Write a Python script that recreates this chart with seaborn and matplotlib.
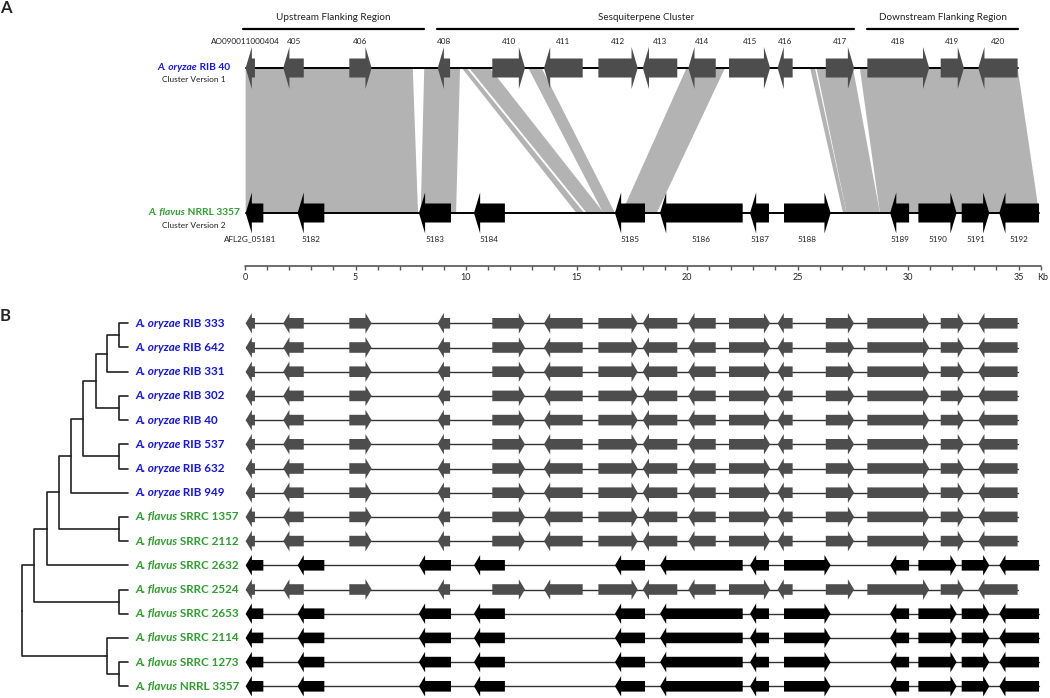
import numpy as np
import pandas as pd
import matplotlib
matplotlib.use("Agg")
import matplotlib.pyplot as plt
from matplotlib.patches import Polygon
import seaborn as sns

# ----------------------
# Data
# ----------------------
# cluster version 1 (A. oryzae RIB 40), positions in kb, strand +1 / -1
v1_names = ["AO090011000404", "405", "406", "408", "410", "411", "412", "413",
            "414", "415", "416", "417", "418", "419", "420"]
v1_start = [0.03, 1.73, 4.72, 8.72, 11.19, 13.53, 15.99, 18.00, 20.06, 21.90, 24.10, 26.28, 28.16, 31.48, 33.18]
v1_end = [0.45, 2.66, 5.73, 9.28, 12.67, 15.28, 17.77, 19.56, 21.30, 23.76, 24.78, 27.56, 30.96, 32.53, 34.96]
v1_strand = [-1, -1, 1, -1, 1, -1, 1, -1, -1, 1, -1, 1, 1, 1, -1]

# cluster version 2 (A. flavus NRRL 3357)
v2_names = ["AFL2G_05181", "5182", "5183", "5184", "5185", "5186", "5187", "5188",
            "5189", "5190", "5191", "5192"]
v2_start = [0.03, 2.38, 7.87, 10.36, 16.74, 18.78, 22.85, 24.39, 29.19, 30.47, 32.43, 34.13]
v2_end = [0.83, 3.59, 9.32, 11.76, 18.10, 22.52, 23.71, 26.50, 30.05, 32.20, 33.68, 35.93]
v2_strand = [-1, -1, -1, -1, -1, -1, -1, 1, -1, 1, 1, -1]

# synteny blocks between the two versions (kb)
syn_top_start = [0.03, 8.11, 9.81, 10.14, 12.82, 19.98, 25.57, 25.86, 27.82]
syn_top_end = [7.59, 9.73, 10.03, 11.08, 13.42, 21.72, 25.79, 27.51, 34.96]
syn_bot_start = [0.03, 7.95, 15.00, 15.46, 16.21, 17.04, 27.06, 27.22, 28.73]
syn_bot_end = [7.83, 9.55, 15.35, 16.24, 16.74, 18.63, 27.22, 28.73, 35.93]

region_names = ["Upstream Flanking Region", "Sesquiterpene Cluster", "Downstream Flanking Region"]
region_start = [-0.08, 8.70, 28.16]
region_end = [8.10, 27.56, 34.96]

scale_ticks = list(range(0, 37))
scale_labels = [0, 5, 10, 15, 20, 25, 30, 35]

# panel B strains
strain_species = ["A. oryzae"] * 8 + ["A. flavus"] * 8
strain_ids = ["RIB 333", "RIB 642", "RIB 331", "RIB 302", "RIB 40", "RIB 537", "RIB 632", "RIB 949",
              "SRRC 1357", "SRRC 2112", "SRRC 2632", "SRRC 2524", "SRRC 2653", "SRRC 2114",
              "SRRC 1273", "NRRL 3357"]
strain_version = [1, 1, 1, 1, 1, 1, 1, 1, 1, 1, 2, 1, 2, 2, 2, 2]

# tree merges (leaves 0-15, new nodes numbered from 16), heights from the leaves
merge_a = [0, 16, 3, 17, 5, 19, 21, 8, 22, 24, 11, 25, 14, 13, 27]
merge_b = [1, 2, 4, 18, 6, 20, 7, 9, 23, 10, 12, 26, 15, 28, 29]
merge_h = [9, 21, 9, 32, 9, 45, 57, 9, 69, 81, 9, 94, 9, 21, 106]

# ----------------------
# Layout / style
# ----------------------
W, H = 1050, 698
KB_PX = 22.1
X0_PX = 245
Y_TOP, Y_BOT, Y_SCALE = 68, 213, 266
ROW0, ROW_STEP = 323.3, 24.2
HEAD_KB = 0.28
BLUE, GREEN = "#1414f0", "#2e9e2e"
GREY_GENE, SYN_GREY = "#4d4d4d", "#b3b3b3"
TXT = "#222222"

sns.set_theme(style="white")
plt.rcParams["font.family"] = ["Lato", "DejaVu Sans"]

fig = plt.figure(figsize=(W / 100, H / 100), dpi=100)
ax = fig.add_axes([0, 0, 1, 1])
ax.set_xlim(-X0_PX / KB_PX, (W - X0_PX) / KB_PX)
ax.set_ylim(H, 0)
ax.axis("off")


def arrow_pts(s, e, strand, y, bh, hh):
    hl = min(HEAD_KB, e - s)
    if strand > 0:
        b = e - hl
        return [(s, y - bh), (b, y - bh), (b, y - hh), (e, y), (b, y + hh), (b, y + bh), (s, y + bh)]
    b = s + hl
    return [(e, y - bh), (b, y - bh), (b, y - hh), (s, y), (b, y + hh), (b, y + bh), (e, y + bh)]


def draw_track(starts, ends, strands, y, color, bh, hh, lw):
    ax.plot([starts[0], ends[-1]], [y, y], color="black" if lw > 1 else "#333333", lw=lw, zorder=2)
    for s, e, st in zip(starts, ends, strands):
        ax.add_patch(Polygon(arrow_pts(s, e, st, y, bh, hh), closed=True, fc=color, ec="none", zorder=3))


def fpos(x, y):
    return x / W, 1 - y / H


def strain_label(x, y, species, rest, color, size, center=False, sub=None):
    t1 = fig.text(*fpos(x, y), species, style="italic", weight="bold", color=color,
                  size=size, va="center", ha="left")
    t2 = ax.annotate(" " + rest, xy=(1, 0.5), xycoords=t1, va="center", ha="left",
                     weight="bold", color=color, size=size)
    if center:
        r = fig.canvas.get_renderer()
        w = t1.get_window_extent(r).width + t2.get_window_extent(r).width
        t1.set_position(fpos(x - w / 2, y))
    if sub:
        fig.text(*fpos(x, y + 12), sub, size=6.0, color=TXT, ha="center", va="center")


# ----------------------
# Panel A
# ----------------------
for ts, te, bs, be in zip(syn_top_start, syn_top_end, syn_bot_start, syn_bot_end):
    ax.add_patch(Polygon([(ts, Y_TOP), (te, Y_TOP), (be, Y_BOT), (bs, Y_BOT)],
                         closed=True, fc=SYN_GREY, ec="none", zorder=1))

draw_track(v1_start, v1_end, v1_strand, Y_TOP, GREY_GENE, 9.5, 21, 1.4)
draw_track(v2_start, v2_end, v2_strand, Y_BOT, "black", 9.5, 20.5, 1.4)

# gene names sit over the gene middle; the first (long) name sits over the gene tip
v1_lab_x = [(s + e) / 2 for s, e in zip(v1_start, v1_end)]
v1_lab_x[0] = v1_start[0]
v2_lab_x = [(s + e) / 2 for s, e in zip(v2_start, v2_end)]
v2_lab_x[0] = (v2_start[0] + v2_lab_x[0]) / 2
for n, x in zip(v1_names, v1_lab_x):
    ax.text(x, 42, n, size=5.9, ha="center", va="center", color=TXT)
for n, x in zip(v2_names, v2_lab_x):
    ax.text(x, 239, n, size=5.9, ha="center", va="center", color=TXT)

for n, s, e in zip(region_names, region_start, region_end):
    ax.plot([s, e], [29, 29], color="black", lw=1.6)
    ax.text((s + e) / 2, 17, n, size=7.1, ha="center", va="center", color=TXT)

# kb scale
ax.plot([scale_ticks[0], scale_ticks[-1]], [Y_SCALE, Y_SCALE], color="#555555", lw=1.2)
ax.vlines(scale_ticks, Y_SCALE, Y_SCALE + 3.5, color="#555555", lw=1.0)
for v in scale_labels:
    ax.text(v, 278, str(v), size=6.5, ha="center", va="center", color=TXT)
ax.text((W - 2 - X0_PX) / KB_PX, 278, "Kb", size=6.5, ha="right", va="center", color=TXT)

strain_label(194, Y_TOP, "A. oryzae", "RIB 40", BLUE, 7.3, center=True, sub="Cluster Version 1")
strain_label(194, Y_BOT, "A. flavus", "NRRL 3357", GREEN, 7.3, center=True, sub="Cluster Version 2")

fig.text(*fpos(0, 8), "A", size=12, weight="bold", ha="left", va="center")
fig.text(*fpos(0, 316), "B", size=12, weight="bold", ha="left", va="center")

# ----------------------
# Panel B: cluster tracks
# ----------------------
for i, ver in enumerate(strain_version):
    y = ROW0 + ROW_STEP * i
    if ver == 1:
        draw_track(v1_start, v1_end, v1_strand, y, GREY_GENE, 5.3, 10.3, 1.0)
    else:
        draw_track(v2_start, v2_end, v2_strand, y, "black", 5.3, 10.3, 1.0)
    color = BLUE if strain_species[i] == "A. oryzae" else GREEN
    strain_label(135, y, strain_species[i], strain_ids[i], color, 8.4)

# ----------------------
# Panel B: tree
# ----------------------
tax = fig.add_axes([0, 0, 1, 1])
tax.patch.set_alpha(0)

node_x = {i: 0.0 for i in range(len(strain_ids))}
node_y = {i: float(i) for i in range(len(strain_ids))}
rows = []
seg = 0
for k, (a, b, h) in enumerate(zip(merge_a, merge_b, merge_h)):
    nid = len(strain_ids) + k
    ny = (node_y[a] + node_y[b]) / 2
    for c in (a, b):
        for px, py in [(node_x[c], node_y[c]), (h, node_y[c]), (h, ny)]:
            rows.append({"seg": seg, "x": px, "y": py})
        seg += 1
    node_x[nid], node_y[nid] = h, ny
tree_df = pd.DataFrame(rows)
sns.lineplot(data=tree_df, x="x", y="y", units="seg", estimator=None, sort=False,
             color=TXT, lw=1.2, legend=False, ax=tax)
tax.set_xlim(128, 128 - W)
tax.set_ylim((H - ROW0) / ROW_STEP, -ROW0 / ROW_STEP)
tax.axis("off")

fig.savefig("out.png", dpi=100)
